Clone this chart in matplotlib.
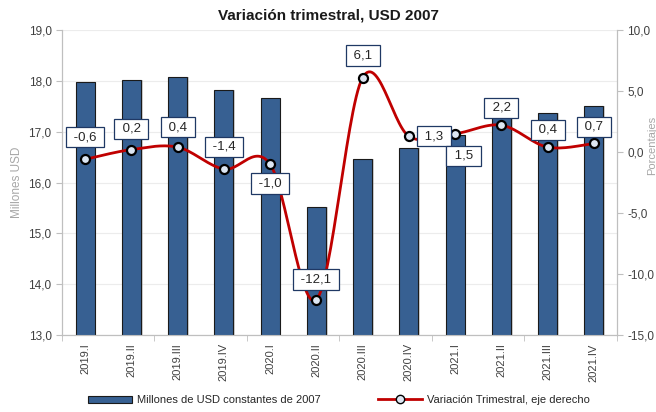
import matplotlib
matplotlib.use("Agg")
import matplotlib.pyplot as plt
import numpy as np
from matplotlib.lines import Line2D
from matplotlib.patches import Patch

# Data
quarters = ["2019.I", "2019.II", "2019.III", "2019.IV", "2020.I", "2020.II",
            "2020.III", "2020.IV", "2021.I", "2021.II", "2021.III", "2021.IV"]
millones = [17.98, 18.01, 18.07, 17.83, 17.66, 15.52,
            16.46, 16.68, 16.93, 17.31, 17.37, 17.50]
variacion = [-0.6, 0.2, 0.4, -1.4, -1.0, -12.1, 6.1, 1.3, 1.5, 2.2, 0.4, 0.7]
labels = ["-0,6", "0,2", "0,4", "-1,4", "-1,0", "-12,1",
          "6,1", "1,3", "1,5", "2,2", "0,4", "0,7"]
# label placement (dx, dy) in points relative to the marker
offsets = [(0, 16), (0, 15), (0, 14.5), (0, 16), (0, -14), (0, 14.5),
           (0, 16), (18, 0), (6, -16), (0, 12.5), (0, 12.5), (0, 12)]

plt.rcParams['font.family'] = ['Liberation Sans Narrow', 'Liberation Sans', 'DejaVu Sans']

fig = plt.figure(figsize=(6.56, 4.12), dpi=100)
ax = fig.add_axes([0.0945, 0.187, 0.846, 0.740])
ax2 = ax.twinx()

x = np.arange(len(quarters))
grey = "#404040"
axis_grey = "#bfbfbf"

# bars with a faint shadow
ax.bar(x + 0.04, millones, width=0.41, color="#a6a6a6", alpha=0.5, zorder=2)
ax.bar(x, millones, width=0.41, color="#376092", edgecolor="#1a1a1a",
       linewidth=0.8, zorder=3)
ax.set_ylim(13, 19)
ax.set_yticks(np.arange(13, 19.01, 1))
ax.set_yticklabels([f"{v:.1f}".replace(".", ",") for v in np.arange(13, 19.01, 1)])
ax.set_xlim(-0.5, len(quarters) - 0.5)
ax.set_xticks(x)
ax.set_xticklabels(quarters, rotation=90)
ax.tick_params(axis="x", length=0, pad=6, labelsize=8, colors=grey)
ax.set_xticks(np.arange(-0.5, len(quarters), 2), minor=True)
ax.tick_params(axis="x", which="minor", length=4, color=axis_grey)
ax.tick_params(axis="y", length=4, color=axis_grey, labelsize=8.5, colors=grey)
ax.grid(axis="y", color="#ececec", linewidth=0.8, zorder=0)
ax.set_axisbelow(True)
ax.spines["top"].set_visible(False)
ax2.spines["top"].set_visible(False)
for s in ["left", "bottom", "right"]:
    ax.spines[s].set_color(axis_grey)
    ax2.spines[s].set_color(axis_grey)
ax.set_ylabel("Millones USD", color="#a6a6a6", fontsize=8.5, labelpad=4)

# smoothed line (Excel-like Bezier smoothing)
y = np.array(variacion, dtype=float)
xs_all, ys_all = [], []
t = np.linspace(0, 1, 30)
n = len(y)
for i in range(n - 1):
    p0 = np.array([x[max(i - 1, 0)], y[max(i - 1, 0)]])
    p1 = np.array([x[i], y[i]])
    p2 = np.array([x[i + 1], y[i + 1]])
    p3 = np.array([x[min(i + 2, n - 1)], y[min(i + 2, n - 1)]])
    c1 = p1 + (p2 - p0) / 6
    c2 = p2 - (p3 - p1) / 6
    pts = ((1 - t) ** 3)[:, None] * p1 + (3 * (1 - t) ** 2 * t)[:, None] * c1 \
        + (3 * (1 - t) * t ** 2)[:, None] * c2 + (t ** 3)[:, None] * p2
    xs_all.extend(pts[:, 0])
    ys_all.extend(pts[:, 1])
ax2.plot(xs_all, ys_all, color="#c00000", linewidth=2, zorder=4)
ax2.plot(x, y, linestyle="none", marker="o", markersize=6.5,
         markerfacecolor="#dce6f2", markeredgecolor="black",
         markeredgewidth=1.6, zorder=5)
ax2.set_ylim(-15, 10)
ax2.set_yticks(np.arange(-15, 10.01, 5))
ax2.set_yticklabels([f"{v:.1f}".replace(".", ",") for v in np.arange(-15, 10.01, 5)])
ax2.tick_params(axis="y", length=4, color=axis_grey, labelsize=8.5, colors=grey)
ax2.set_ylabel("Porcentajes", color="#a6a6a6", fontsize=8)
ax2.yaxis.set_label_coords(1.055, 0.62)

for xi, yi, lab, (dx, dy) in zip(x, y, labels, offsets):
    ax2.annotate(" " + lab + " ", (xi, yi), xytext=(dx, dy), textcoords="offset points",
                 ha="center", va="center", fontsize=9.5, color="#262626", zorder=6,
                 bbox=dict(boxstyle="square,pad=0.32", fc="white", ec="#1f3864", lw=0.9))

ax.set_zorder(1)
ax2.set_zorder(2)
ax2.patch.set_visible(False)

fig.suptitle("Variación trimestral, USD 2007", x=0.5, y=0.98, fontsize=11,
             fontweight="bold", color="#1a1a1a")

h_bar = Patch(facecolor="#376092", edgecolor="#1a1a1a", linewidth=0.8)
h_line = Line2D([], [], color="#c00000", linewidth=2, marker="o", markersize=6,
                markerfacecolor="#dce6f2", markeredgecolor="black")
leg1 = fig.legend([h_bar], ["Millones de USD constantes de 2007"],
                  loc="center left", bbox_to_anchor=(0.134, 0.029),
                  frameon=False, fontsize=8, handlelength=4.0, handleheight=0.6,
                  handletextpad=0.45, borderpad=0, borderaxespad=0,
                  labelcolor="#262626")
leg2 = fig.legend([h_line], ["Variación Trimestral, eje derecho"],
                  loc="center left", bbox_to_anchor=(0.576, 0.029),
                  frameon=False, fontsize=8, handlelength=4.0,
                  handletextpad=0.45, borderpad=0, borderaxespad=0,
                  labelcolor="#262626")

fig.savefig("out.png", dpi=100)
